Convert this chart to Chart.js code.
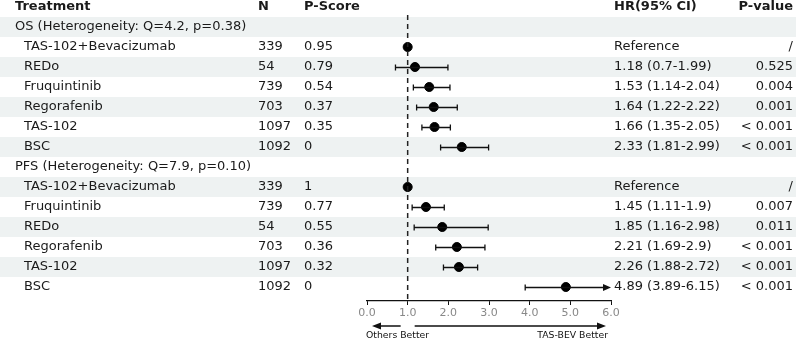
<!DOCTYPE html>
<html>
<head>
<meta charset="utf-8">
<script src="https://cdn.jsdelivr.net/npm/chart.js@4.4.1/dist/chart.umd.min.js"></script>
<style>
  html, body { margin: 0; padding: 0; background: #fff; }
  #wrap { width: 798px; height: 341px; position: relative; }
</style>
</head>
<body>
<div id="wrap"><canvas id="forest" width="798" height="341"></canvas></div>
<script>
// rows of the table, top to bottom (group headers have no values)
const labels = ['OS (Heterogeneity: Q=4.2, p=0.38)', 'TAS-102+Bevacizumab', 'REDo', 'Fruquintinib', 'Regorafenib', 'TAS-102', 'BSC',
                'PFS (Heterogeneity: Q=7.9, p=0.10)', 'TAS-102+Bevacizumab', 'Fruquintinib', 'REDo', 'Regorafenib', 'TAS-102', 'BSC'];
const isGroup = [true, false, false, false, false, false, false, true, false, false, false, false, false, false];
const nValues = ['', '339', '54', '739', '703', '1097', '1092', '', '339', '739', '54', '703', '1097', '1092'];
const pScores = ['', '0.95', '0.79', '0.54', '0.37', '0.35', '0', '', '1', '0.77', '0.55', '0.36', '0.32', '0'];
const hr = [null, 1, 1.18, 1.53, 1.64, 1.66, 2.33, null, 1, 1.45, 1.85, 2.21, 2.26, 4.89];
const lower = [null, null, 0.7, 1.14, 1.22, 1.35, 1.81, null, null, 1.11, 1.16, 1.69, 1.88, 3.89];
const upper = [null, null, 1.99, 2.04, 2.22, 2.05, 2.99, null, null, 1.9, 2.98, 2.9, 2.72, 6.15];
const hrText = ['', 'Reference', '1.18 (0.7-1.99)', '1.53 (1.14-2.04)', '1.64 (1.22-2.22)', '1.66 (1.35-2.05)', '2.33 (1.81-2.99)',
                '', 'Reference', '1.45 (1.11-1.9)', '1.85 (1.16-2.98)', '2.21 (1.69-2.9)', '2.26 (1.88-2.72)', '4.89 (3.89-6.15)'];
const pValues = ['', '/', '0.525', '0.004', '0.001', '< 0.001', '< 0.001', '', '/', '0.007', '0.011', '< 0.001', '< 0.001', '< 0.001'];
const xTicks = [0, 1, 2, 3, 4, 5, 6];
const refLine = 1;

const FONT = '"DejaVu Sans", sans-serif';
const points = [];
hr.forEach((v, i) => { if (v !== null) points.push({ x: v, y: i + 1 }); });

// stripes, table text, whiskers and the arrows under the axis
const tablePlugin = {
  id: 'table',
  beforeDraw(chart) {
    const ctx = chart.ctx, y = chart.scales.y;
    ctx.save();
    ctx.fillStyle = '#eef2f2';
    for (let k = 1; k <= labels.length; k += 2) {
      const c = y.getPixelForValue(k);
      ctx.fillRect(0, c - 10, 796, 20);
    }
    ctx.restore();
  },
  afterDatasetsDraw(chart) {
    const ctx = chart.ctx, x = chart.scales.x, y = chart.scales.y;
    ctx.save();
    ctx.strokeStyle = '#111';
    ctx.fillStyle = '#111';
    ctx.lineWidth = 1.3;
    lower.forEach((lo, i) => {
      if (lo === null) return;
      const cy = Math.round(y.getPixelForValue(i + 1)) + 0.5;
      const x0 = x.getPixelForValue(lo);
      const clipped = upper[i] > x.max;
      const x1 = x.getPixelForValue(Math.min(upper[i], x.max));
      ctx.beginPath();
      ctx.moveTo(x0, cy); ctx.lineTo(clipped ? x1 - 6 : x1, cy);
      ctx.moveTo(x0, cy - 3); ctx.lineTo(x0, cy + 3);
      if (!clipped) { ctx.moveTo(x1, cy - 3); ctx.lineTo(x1, cy + 3); }
      ctx.stroke();
      if (clipped) {
        ctx.beginPath();
        ctx.moveTo(x1, cy); ctx.lineTo(x1 - 8, cy - 3.5); ctx.lineTo(x1 - 8, cy + 3.5);
        ctx.closePath(); ctx.fill();
      }
    });
    ctx.restore();
  },
  afterDraw(chart) {
    const ctx = chart.ctx, x = chart.scales.x, y = chart.scales.y;
    ctx.save();
    ctx.textBaseline = 'middle';
    ctx.fillStyle = '#1a1a1a';
    const hy = y.getPixelForValue(0);
    ctx.font = 'bold 13px ' + FONT;
    ctx.textAlign = 'left';
    ctx.fillText('Treatment', 15, hy);
    ctx.fillText('N', 258, hy);
    ctx.fillText('P-Score', 304, hy);
    ctx.fillText('HR(95% CI)', 614, hy);
    ctx.textAlign = 'right';
    ctx.fillText('P-value', 793, hy);
    ctx.font = '13px ' + FONT;
    labels.forEach((lab, i) => {
      const cy = y.getPixelForValue(i + 1);
      ctx.textAlign = 'left';
      ctx.fillText(lab, isGroup[i] ? 15 : 24, cy);
      ctx.fillText(nValues[i], 258, cy);
      ctx.fillText(pScores[i], 304, cy);
      ctx.fillText(hrText[i], 614, cy);
      ctx.textAlign = 'right';
      ctx.fillText(pValues[i], 793, cy);
    });
    // direction arrows
    const ay = 326;
    const x0 = x.getPixelForValue(0), xr = x.getPixelForValue(refLine), x6 = x.getPixelForValue(6);
    ctx.lineWidth = 1.3;
    ctx.strokeStyle = '#111';
    ctx.fillStyle = '#111';
    ctx.beginPath();
    ctx.moveTo(xr - 7, ay); ctx.lineTo(x0 + 12, ay);
    ctx.moveTo(xr + 7, ay); ctx.lineTo(x6 - 12, ay);
    ctx.stroke();
    ctx.beginPath();
    ctx.moveTo(x0 + 5, ay); ctx.lineTo(x0 + 14, ay - 3.5); ctx.lineTo(x0 + 14, ay + 3.5); ctx.closePath();
    ctx.moveTo(x6 - 5, ay); ctx.lineTo(x6 - 14, ay - 3.5); ctx.lineTo(x6 - 14, ay + 3.5); ctx.closePath();
    ctx.fill();
    ctx.font = '9.3px ' + FONT;
    ctx.textAlign = 'left';
    ctx.fillText('Others Better', x0 - 1, 336);
    ctx.textAlign = 'right';
    ctx.fillText('TAS-BEV Better', x6 - 3, 336);
    ctx.restore();
  }
};

new Chart(document.getElementById('forest'), {
  type: 'scatter',
  plugins: [tablePlugin],
  data: {
    datasets: [
      {
        data: [{ x: refLine, y: 0.4 }, { x: refLine, y: 14.7 }],
        showLine: true,
        borderColor: '#222',
        borderWidth: 1.5,
        borderDash: [5, 4],
        pointRadius: 0
      },
      {
        data: points,
        backgroundColor: '#000',
        borderColor: '#000',
        pointRadius: 4.5
      }
    ]
  },
  options: {
    responsive: false,
    animation: false,
    devicePixelRatio: 1,
    layout: { padding: { left: 367, right: 187, top: 15, bottom: 0 } },
    plugins: { legend: { display: false }, tooltip: { enabled: false } },
    scales: {
      x: {
        type: 'linear',
        min: 0,
        max: 6,
        afterFit: s => { s.height = 40; },
        afterBuildTicks: s => { s.ticks = xTicks.map(v => ({ value: v })); },
        grid: { display: true, drawOnChartArea: false, drawTicks: true, tickLength: 4, tickColor: '#111' },
        border: { display: true, color: '#111', width: 1.2 },
        ticks: {
          color: '#888',
          padding: 2,
          font: { family: FONT, size: 11 },
          callback: v => v.toFixed(1)
        }
      },
      y: {
        type: 'linear',
        display: false,
        reverse: true,
        min: 0.4,
        max: 14.7
      }
    }
  }
});
</script>
</body>
</html>
